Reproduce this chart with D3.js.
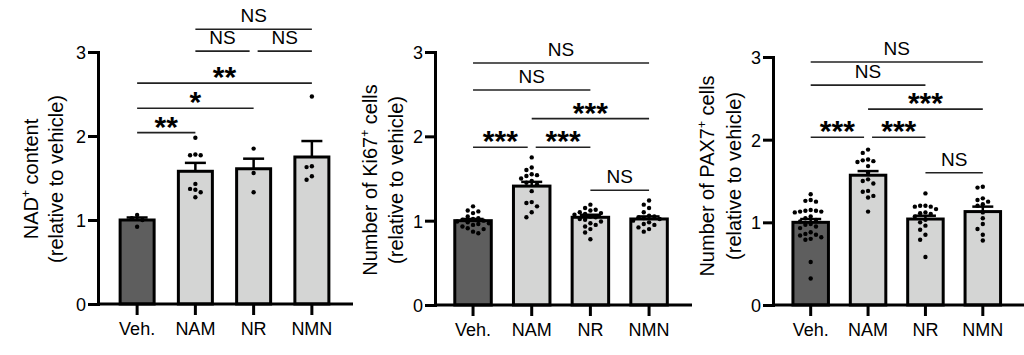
<!DOCTYPE html>
<html><head><meta charset="utf-8">
<script src="https://cdn.jsdelivr.net/npm/d3@7"></script>
<style>
body{margin:0;background:#fff}
svg{display:block}
text{font-family:"Liberation Sans",Arial,sans-serif;fill:#000}
</style>
</head><body>
<svg id="chart" width="1024" height="355"></svg>
<script>
// ---------- DATA ----------
const categories = ["Veh.", "NAM", "NR", "NMN"];
const yTicks = [0, 1, 2, 3];

// Panel 1: NAD+ content
const nadMean = [1.00, 1.58, 1.61, 1.75];
const nadSem  = [0.03, 0.10, 0.12, 0.19];
const nadVeh = [1.06, 1.02, 1.00, 0.92];
const nadNAM = [1.98, 1.78, 1.77, 1.77, 1.43, 1.37, 1.36, 1.33, 1.27];
const nadNR  = [1.85, 1.56, 1.33];
const nadNMN = [2.47, 1.64, 1.63, 1.52, 1.48];
const nadComparisons = [
  ["NAM", "NMN", 3.27, "NS"], ["NAM", "NR", 3.01, "NS"], ["NR", "NMN", 3.01, "NS"],
  ["Veh.", "NMN", 2.63, "**"], ["Veh.", "NR", 2.33, "*"], ["Veh.", "NAM", 2.04, "**"]
];

// Panel 2: Ki67+ cells
const ki67Mean = [1.00, 1.41, 1.04, 1.02];
const ki67Sem  = [0.02, 0.05, 0.03, 0.03];
const ki67Veh = [1.17,1.12,1.11,1.09,1.05,1.03,1.02,1.01,1.00,0.99,0.98,0.97,0.96,0.95,0.93,0.91,0.90,0.87,0.85];
const ki67NAM = [1.75,1.63,1.60,1.55,1.54,1.53,1.50,1.47,1.45,1.43,1.35,1.22,1.21,1.17,1.10,1.04];
const ki67NR  = [1.19,1.15,1.13,1.12,1.10,1.09,1.08,1.07,1.05,1.04,1.02,1.01,0.99,0.97,0.95,0.93,0.90,0.86,0.78];
const ki67NMN = [1.24,1.19,1.15,1.10,1.06,1.05,1.04,1.03,1.02,1.00,0.98,0.96,0.95,0.92,0.90,0.87];
const ki67Comparisons = [
  ["Veh.", "NMN", 2.87, "NS"], ["Veh.", "NR", 2.55, "NS"], ["NAM", "NMN", 2.21, "***"],
  ["Veh.", "NAM", 1.87, "***"], ["NAM", "NR", 1.87, "***"], ["NR", "NMN", 1.36, "NS"]
];

// Panel 3: PAX7+ cells
const pax7Mean = [1.00, 1.57, 1.04, 1.13];
const pax7Sem  = [0.04, 0.05, 0.04, 0.06];
const pax7Veh = [1.34,1.27,1.26,1.25,1.15,1.14,1.14,1.13,1.13,1.12,1.07,1.05,1.03,1.01,0.98,0.97,0.95,0.93,0.88,0.86,0.85,0.84,0.82,0.80,0.79,0.52,0.32];
const pax7NAM = [1.88,1.84,1.76,1.75,1.74,1.73,1.68,1.60,1.52,1.50,1.47,1.38,1.37,1.32,1.30,1.13];
const pax7NR  = [1.35,1.20,1.20,1.19,1.19,1.16,1.12,1.11,1.10,1.07,1.03,1.00,0.96,0.91,0.85,0.79,0.58];
const pax7NMN = [1.43,1.42,1.29,1.27,1.25,1.22,1.20,1.12,1.05,0.98,0.92,0.85,0.78];
const pax7Comparisons = [
  ["Veh.", "NMN", 2.94, "NS"], ["Veh.", "NR", 2.66, "NS"], ["NAM", "NMN", 2.37, "***"],
  ["Veh.", "NAM", 2.03, "***"], ["NAM", "NR", 2.03, "***"], ["NR", "NMN", 1.60, "NS"]
];

const titles = [
  ["NAD", "+", " content"],
  ["Number of Ki67", "+", " cells"],
  ["Number of PAX7", "+", " cells"]
];
const subtitle = "(relative to vehicle)";

// ---------- LAYOUT ----------
const panels = [
  {mean: nadMean, sem: nadSem, pts: [nadVeh, nadNAM, nadNR, nadNMN], comps: nadComparisons, title: titles[0],
   axisX: 98, y0: 304, y3: 52, bandStart: 108, bandEnd: 341, xEnd: 353, barW: 34, t1: 38, t2: 63, tY: 179},
  {mean: ki67Mean, sem: ki67Sem, pts: [ki67Veh, ki67NAM, ki67NR, ki67NMN], comps: ki67Comparisons, title: titles[1],
   axisX: 435, y0: 305, y3: 52, bandStart: 443.7, bandEnd: 678.4, xEnd: 692, barW: 36.5, t1: 377, t2: 403, tY: 180},
  {mean: pax7Mean, sem: pax7Sem, pts: [pax7Veh, pax7NAM, pax7NR, pax7NMN], comps: pax7Comparisons, title: titles[2],
   axisX: 773, y0: 305, y3: 57, bandStart: 782, bandEnd: 1011.5, xEnd: 1030, barW: 35.5, t1: 714, t2: 741, tY: 176}
];
const fills = ["#5e5e5e", "#d4d5d4", "#d4d5d4", "#d4d5d4"];
const R = 2.2;

const svg = d3.select("#chart");

function swarm(vals, y) {
  const placed = [];
  const step = 2 * R + 0.9;
  vals.slice().sort((a, b) => b - a).forEach(v => {
    const p = {v, y: y(v), x: 0};
    for (let k = 0; k < 30; k++) {
      const off = k === 0 ? 0 : (k % 2 ? -1 : 1) * Math.ceil(k / 2) * step;
      if (placed.every(q => Math.hypot(q.x - off, q.y - p.y) >= 2 * R + 0.7)) { p.x = off; break; }
    }
    placed.push(p);
  });
  return placed;
}

panels.forEach(P => {
  const g = svg.append("g");
  const x = d3.scaleBand().domain(categories).range([P.bandStart, P.bandEnd]).padding(0);
  const cx = c => x(c) + x.bandwidth() / 2;
  const y = d3.scaleLinear().domain([0, 3]).range([P.y0, P.y3]);

  // bars
  g.selectAll("rect.bar").data(categories).join("rect")
    .attr("x", c => cx(c) - P.barW / 2)
    .attr("width", P.barW)
    .attr("y", (c, i) => y(P.mean[i]))
    .attr("height", (c, i) => y(0) - y(P.mean[i]))
    .attr("fill", (c, i) => fills[i])
    .attr("stroke", "#000").attr("stroke-width", 3);

  // error bars
  categories.forEach((c, i) => {
    const top = y(P.mean[i] + P.sem[i]);
    g.append("line").attr("x1", cx(c)).attr("x2", cx(c)).attr("y1", y(P.mean[i])).attr("y2", top)
      .attr("stroke", "#000").attr("stroke-width", 2.5);
    g.append("line").attr("x1", cx(c) - 10.5).attr("x2", cx(c) + 10.5).attr("y1", top).attr("y2", top)
      .attr("stroke", "#000").attr("stroke-width", 2.5);
  });

  // dots
  categories.forEach((c, i) => {
    g.selectAll(null).data(swarm(P.pts[i], y)).join("circle")
      .attr("cx", d => cx(c) + d.x).attr("cy", d => d.y).attr("r", R).attr("fill", "#000");
  });

  // y axis
  const ya = g.append("g").attr("transform", `translate(${P.axisX},0)`)
    .call(d3.axisLeft(y).tickValues(yTicks).tickFormat(d3.format("d")).tickSize(10).tickSizeOuter(0).tickPadding(2));
  ya.select(".domain").attr("stroke-width", 3).attr("stroke-linecap", "square");
  ya.selectAll(".tick line").attr("stroke-width", 3);
  ya.selectAll(".tick text").attr("font-size", 18).attr("font-family", "Liberation Sans, Arial, sans-serif").attr("dy", "0.36em");

  // x axis
  g.append("line").attr("x1", P.axisX).attr("x2", P.xEnd).attr("y1", y(0)).attr("y2", y(0))
    .attr("stroke", "#000").attr("stroke-width", 3);
  const xa = g.append("g").attr("transform", `translate(0,${y(0)})`)
    .call(d3.axisBottom(x).tickSize(11).tickSizeOuter(0));
  xa.select(".domain").remove();
  xa.selectAll(".tick line").attr("stroke-width", 3);
  xa.selectAll(".tick text").attr("font-size", 18).attr("font-family", "Liberation Sans, Arial, sans-serif")
    .attr("y", 31).attr("dy", 0);

  // significance brackets
  P.comps.forEach(([a, b, h, lab]) => {
    let x1 = cx(a), x2 = cx(b);
    P.comps.forEach(([a2, b2, h2]) => {
      if (h2 === h && b2 === a) x1 += 4;
      if (h2 === h && a2 === b) x2 -= 4;
    });
    const ly = y(h);
    g.append("line").attr("x1", x1).attr("x2", x2).attr("y1", ly).attr("y2", ly)
      .attr("stroke", "#222").attr("stroke-width", 1.6);
    const star = lab.startsWith("*");
    g.append("text").attr("x", (x1 + x2) / 2).attr("y", star ? ly + 4 : ly - 7)
      .attr("text-anchor", "middle").attr("font-size", star ? 30 : 19)
      .attr("font-weight", star ? "bold" : "normal").text(lab);
  });

  // axis titles
  const t = g.append("text").attr("transform", `translate(${P.t1},${P.tY}) rotate(-90)`)
    .attr("text-anchor", "middle").attr("font-size", 20);
  t.append("tspan").text(P.title[0]);
  t.append("tspan").attr("font-size", 12).attr("dy", -8).text(P.title[1]);
  t.append("tspan").attr("dy", 8).text(P.title[2]);
  g.append("text").attr("transform", `translate(${P.t2},${P.tY}) rotate(-90)`)
    .attr("text-anchor", "middle").attr("font-size", 20).text(subtitle);
});
</script>
</body></html>
